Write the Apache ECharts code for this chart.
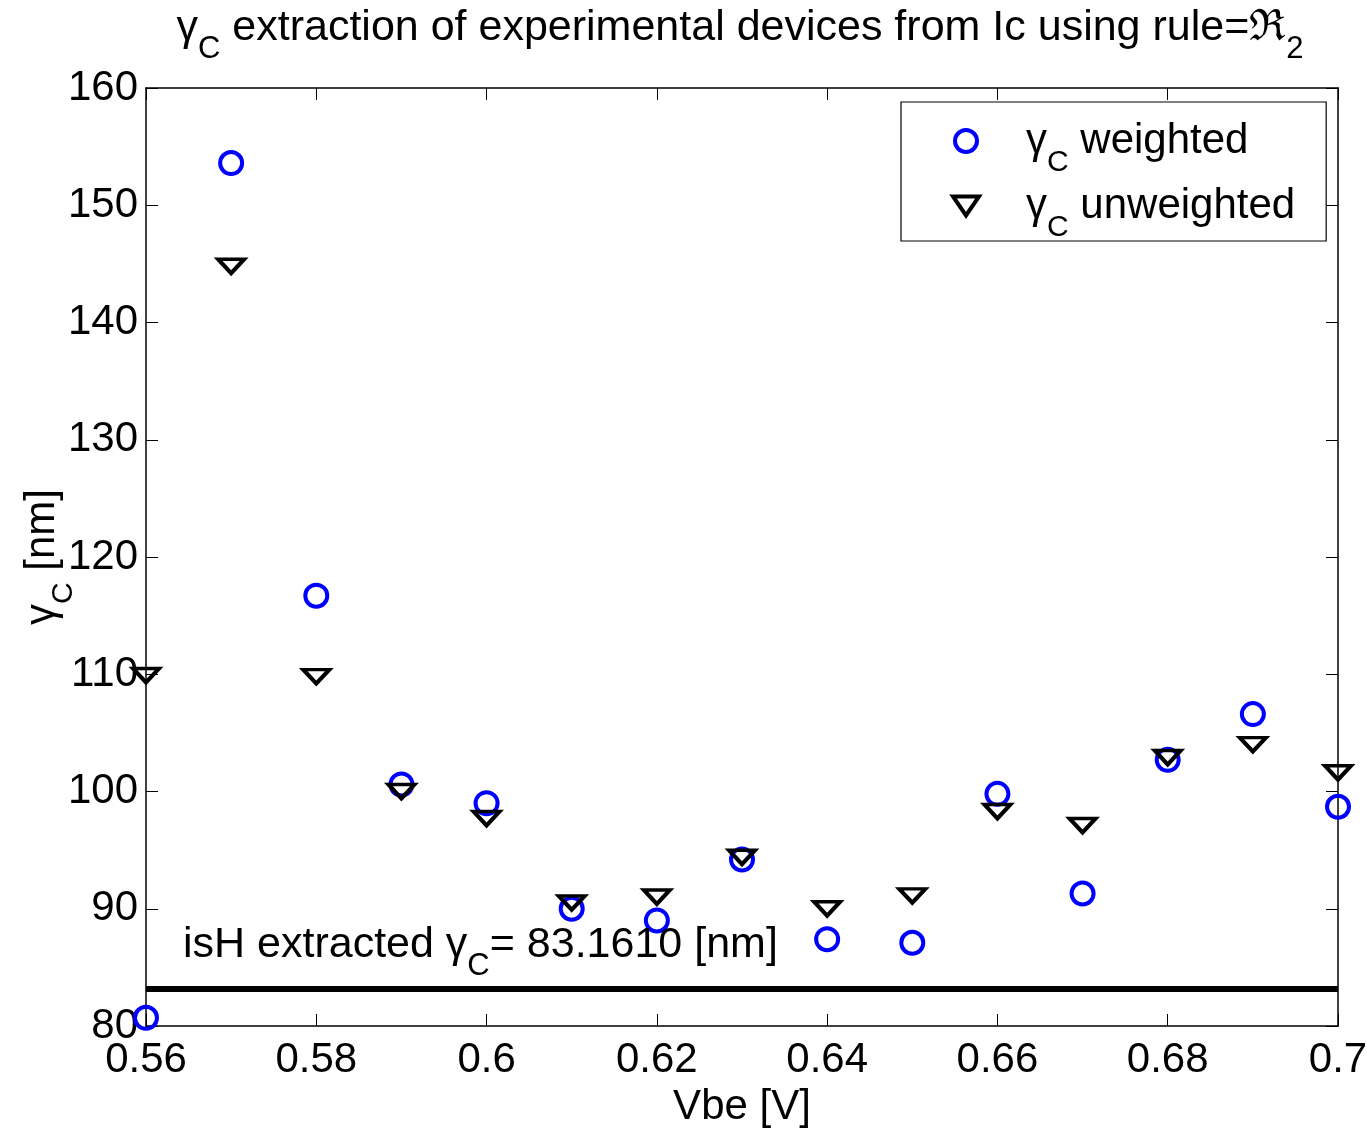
<!DOCTYPE html>
<html><head><meta charset="utf-8">
<script src="https://cdn.jsdelivr.net/npm/echarts@6/dist/echarts.min.js"></script>
<style>html,body{margin:0;padding:0;background:#fff}#c{width:1367px;height:1129px}</style>
</head><body><div id="c"></div>
<script>
const vbe = [0.56,0.57,0.58,0.59,0.60,0.61,0.62,0.63,0.64,0.65,0.66,0.67,0.68,0.69,0.70];
const gammaWeighted = [80.7,153.6,116.7,100.6,99.0,90.0,89.0,94.2,87.4,87.1,99.8,91.3,102.7,106.6,98.7];
const gammaUnweighted = [109.9,144.8,109.8,100.0,97.7,90.5,91.0,94.4,90.0,91.1,98.3,97.1,102.9,104.0,101.6];
const ishGamma = 83.161;
const xTickLabels = ['0.56','0.58','0.6','0.62','0.64','0.66','0.68','0.7'];
const yTickLabels = ['80','90','100','110','120','130','140','150','160'];
const seriesNames = ['weighted','unweighted'];

const F = "'Liberation Sans', Arial, Helvetica, sans-serif";
const LH = 74;
function rich(fs, sub){
  return {
    t:{fontSize:fs, fontWeight:'normal', lineHeight:LH, verticalAlign:'middle', fontFamily:F, color:'#000'},
    s:{fontSize:sub, fontWeight:'normal', lineHeight:30, verticalAlign:'bottom', fontFamily:F, color:'#000'}
  };
}
const xMin = parseFloat(xTickLabels[0]), xMax = parseFloat(xTickLabels[xTickLabels.length-1]);
const yMin = parseFloat(yTickLabels[0]), yMax = parseFloat(yTickLabels[yTickLabels.length-1]);
const xFmt = v => { const s = Number(v.toFixed(2)).toString(); return xTickLabels.includes(s) ? s : ''; };

const chart = echarts.init(document.getElementById('c'), null, {renderer:'canvas'});
const frameLine = {show:true, lineStyle:{color:'#000', width:1.5}};
const tickIn = {show:true, inside:true, length:12, lineStyle:{color:'#000', width:1}};
chart.setOption({
  animation:false,
  backgroundColor:'#fff',
  title:{
    left:740, top:-9, padding:0, textAlign:'center',
    text:'{t|γ}{s|C}{t| extraction of experimental devices from Ic using rule=ℜ}{s|2}',
    textStyle:{fontWeight:'normal', rich:rich(43,31)}
  },
  grid:{left:146, right:29, top:88, bottom:103, containLabel:false, outerBoundsMode:'none'},
  legend:{
    orient:'vertical', left:901, top:102,
    padding:[18,31,-2,50], itemGap:7,
    itemWidth:26, itemHeight:22,
    borderColor:'#000', borderWidth:1.2, backgroundColor:'#fff',
    data:seriesNames,
    formatter: n => '{t|γ}{s|C}{t| '+n+'}',
    itemStyle:{borderWidth:4, opacity:1},
    textStyle:{padding:[0,0,0,42], rich:rich(42,30)}
  },
  xAxis:[{
    type:'value', min:xMin, max:xMax, interval:0.02,
    axisLine:frameLine, axisTick:tickIn, splitLine:{show:false},
    axisLabel:{formatter:xFmt, fontSize:42, fontFamily:F, color:'#000', margin:13},
    name:'Vbe [V]', nameLocation:'middle', nameGap:60, nameMoveOverlap:false,
    nameTextStyle:{fontSize:42, fontFamily:F, color:'#000'}
  },{
    type:'value', position:'top', min:xMin, max:xMax, interval:0.02,
    axisLine:frameLine, axisTick:tickIn, axisLabel:{show:false}, splitLine:{show:false}
  }],
  yAxis:[{
    type:'value', min:yMin, max:yMax, interval:10,
    axisLine:frameLine, axisTick:tickIn, splitLine:{show:false},
    axisLabel:{fontSize:42, fontFamily:F, color:'#000', margin:8},
    name:'{t|γ}{s|C}{t| [nm]}', nameLocation:'middle', nameGap:67, nameMoveOverlap:false,
    nameTextStyle:{rich:rich(42,30)}
  },{
    type:'value', position:'right', min:yMin, max:yMax, interval:10,
    axisLine:frameLine, axisTick:tickIn, axisLabel:{show:false}, splitLine:{show:false}
  }],
  series:[{
    name:seriesNames[0], type:'scatter', clip:false, z:3,
    data:vbe.map((x,i)=>[x,gammaWeighted[i]]),
    symbol:'circle', symbolSize:22,
    itemStyle:{color:'rgba(0,0,0,0)', borderColor:'#0000ff', borderWidth:4, opacity:1},
    markLine:{
      silent:true, symbol:['none','none'],
      lineStyle:{color:'#000', width:6, type:'solid', opacity:1},
      label:{
        show:true, position:'insideStartTop', distance:[37,7],
        formatter:'{t|isH extracted γ}{s|C}{t|= '+ishGamma.toFixed(4)+' [nm]}',
        rich:rich(43,31)
      },
      data:[{yAxis:ishGamma}]
    }
  },{
    name:seriesNames[1], type:'scatter', clip:false, z:4,
    data:vbe.map((x,i)=>[x,gammaUnweighted[i]]),
    symbol:'path://M0,0L26,0L13,19Z', symbolSize:[26,19], symbolKeepAspect:true,
    itemStyle:{color:'rgba(0,0,0,0)', borderColor:'#000', borderWidth:4, opacity:1}
  }]
});
</script></body></html>
